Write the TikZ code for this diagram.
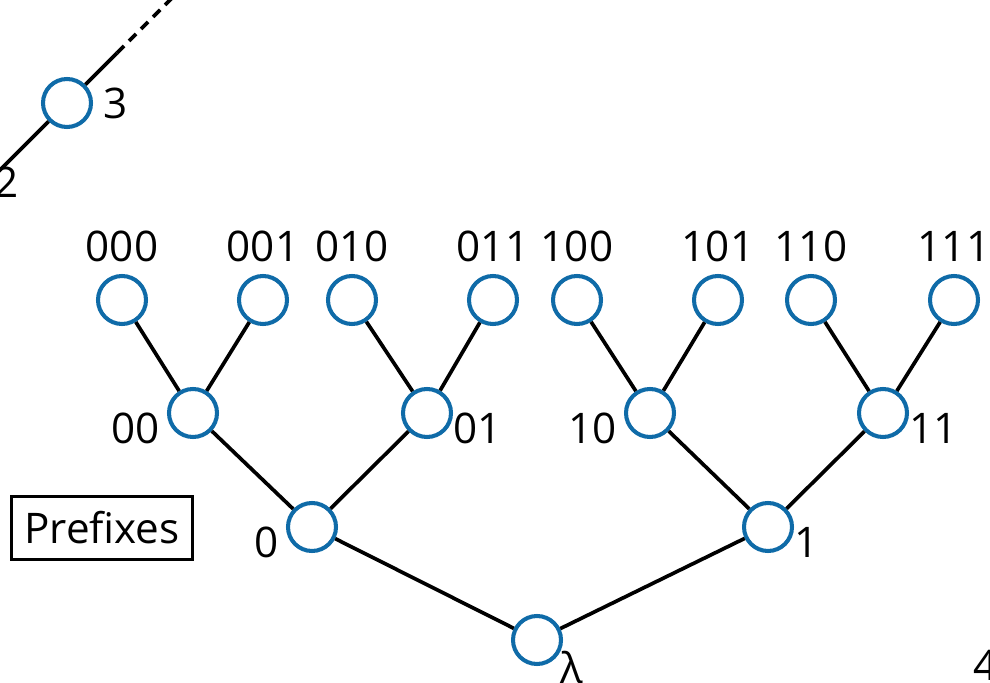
\documentclass[tikz,border=0pt]{standalone}
\usepackage{fontspec}
\setmainfont{Open Sans}
\usepackage{tikz}
\usetikzlibrary{positioning}
\definecolor{nodeblue}{rgb}{0.06, 0.42, 0.66}
\tikzset{vert/.style = {draw = nodeblue, line width = 2.3pt, fill = white, circle, inner sep = 0, minimum size = 0.96cm}}
\tikzset{edge/.style = {line width = 2.1pt}}
\tikzset{lleft/.style = {label = {[anchor = north east, label distance = 0.14cm]180:#1}}}
\tikzset{lright/.style = {label = {[anchor = north west, label distance = 0]0:#1}}}

\begin{document}
\begin{tikzpicture}[font = \fontsize{24}{28}\selectfont, label distance = 0.2cm,
    every label/.style = {inner sep = 0}]
      \useasboundingbox (0, 0) rectangle (19.8, -13.66);
      \clip (0, 0) rectangle (19.8, -13.66);

      % naturals, running off to the upper right
      \node [vert, label = {20:2}] (n2) at (-0.8, -4.2) {};
      \node [vert, label = {0:3}] (n3) at (1.34, -2.06) {};
      \coordinate (more) at (2.34, -1.06);
      \coordinate (far) at (3.6, 0.2);
      \draw [edge] (n2) -- (n3) -- (more);
      \draw [edge, dash pattern = on 0.2cm off 0.14cm] (more) -- (far);

      % prefix tree
      \foreach \x/\s in {2.44/000, 5.26/001, 7.04/010, 9.86/011, 11.54/100, 14.36/101, 16.22/110, 19.08/111} {
        \node [vert, label = {[label distance = 0.24cm]90:\s}] (p\s) at (\x, -6) {};
      }
      \node [vert, lleft = 00] (p00) at (3.86, -8.26) {};
      \node [vert, lright = 01] (p01) at (8.54, -8.26) {};
      \node [vert, lleft = 10] (p10) at (13.0, -8.26) {};
      \node [vert, lright = 11] (p11) at (17.66, -8.26) {};
      \node [vert, lleft = 0] (p0) at (6.24, -10.54) {};
      \node [vert, lright = 1] (p1) at (15.36, -10.54) {};
      \node [vert, label = {[anchor = north west, label distance = 0]-25:λ}] (proot) at (10.74, -12.8) {};

      \foreach \a/\b in {00/000, 00/001, 01/010, 01/011, 10/100, 10/101, 11/110, 11/111, 0/00, 0/01, 1/10, 1/11, root/0, root/1} {
        \draw [edge] (p\a) -- (p\b);
      }

      \node [draw, line width = 1.4pt, inner sep = 0, minimum width = 3.62cm, minimum height = 1.26cm] (prefixes) at (2.04, -10.56) {Prefixes};
      \node [anchor = north west, inner sep = 0] (four) at (19.46, -13.0) {4};
    \end{tikzpicture}
\end{document}
